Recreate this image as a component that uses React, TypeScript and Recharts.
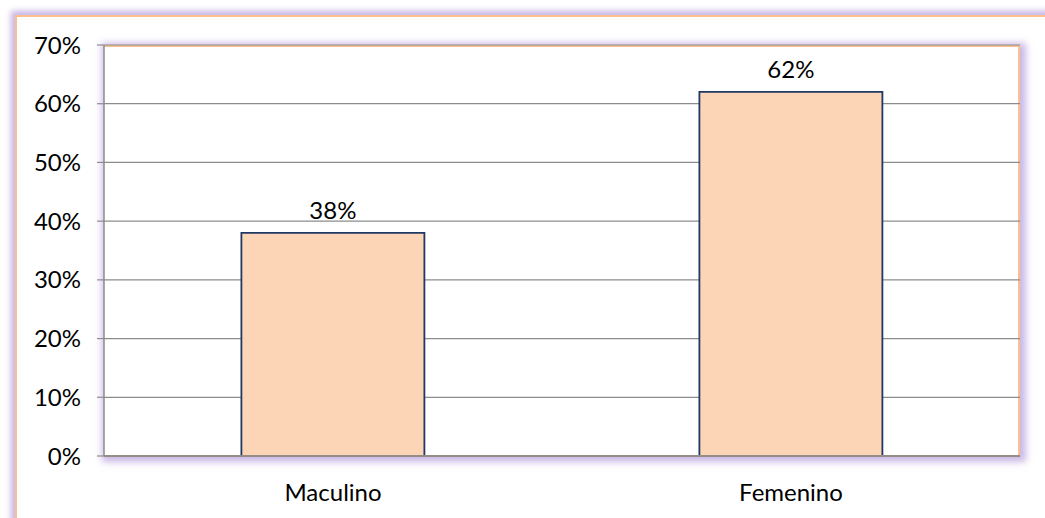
import React from "react";
import { BarChart, Bar, XAxis, YAxis, CartesianGrid, LabelList } from "recharts";

const categories = ["Maculino", "Femenino"];
const shares = [0.38, 0.62];
const yTicks = [0, 0.1, 0.2, 0.3, 0.4, 0.5, 0.6, 0.7];

const data = categories.map((name, i) => ({ name, value: shares[i] }));

const W = 1045;
const H = 518;
const xAxisHeight = 40;
const margin = { top: 45, right: 25, bottom: 62 - xAxisHeight, left: 22 };
const yAxisWidth = 82;
const plotLeft = margin.left + yAxisWidth;
const plotTop = margin.top;
const plotW = W - plotLeft - margin.right;
const plotH = H - margin.top - margin.bottom - xAxisHeight;

const FONT = "Lato, 'Open Sans', sans-serif";
const FS = 24;
const pct = (v: number) => `${Math.round(v * 100)}%`;

export default function App() {
  return (
    <div style={{ position: "absolute", left: 0, top: 0, width: W, height: H, overflow: "hidden", background: "#fff" }}>
      <div
        style={{
          position: "absolute",
          left: 15,
          top: 15,
          width: W + 100,
          height: H + 100,
          borderTop: "2px solid #FAC090",
          borderLeft: "2px solid #FAC090",
          boxShadow: "0 0 6px 4px rgba(185,160,220,0.8)",
          background: "#fff",
        }}
      />
      <div
        style={{
          position: "absolute",
          left: plotLeft,
          top: plotTop,
          width: plotW,
          height: plotH,
          borderTop: "2px solid #FAC090",
          borderRight: "2px solid #FAC090",
          boxSizing: "border-box",
          boxShadow: "2px 2px 7px 4px rgba(185,160,220,0.75)",
          background: "#fff",
        }}
      />
      <div style={{ position: "absolute", left: 0, top: 0 }}>
        <BarChart width={W} height={H} data={data} margin={margin} barCategoryGap="30%" style={{ fontFamily: FONT }}>
          <CartesianGrid vertical={false} stroke="#8C8C8C" strokeWidth={1.2} />
          <XAxis
            dataKey="name"
            height={xAxisHeight}
            tickLine={false}
            axisLine={{ stroke: "#948D85", strokeWidth: 2 }}
            tick={{ fill: "#000", fontSize: FS, fontFamily: FONT }}
            tickMargin={22}
          />
          <YAxis
            width={yAxisWidth}
            domain={[0, 0.7]}
            ticks={yTicks}
            tickFormatter={pct}
            axisLine={{ stroke: "#8C8C8C", strokeWidth: 1.5 }}
            tickLine={{ stroke: "#8C8C8C", strokeWidth: 1.2 }}
            tickSize={7}
            tickMargin={16}
            tick={{ fill: "#000", fontSize: FS, fontFamily: FONT }}
          />
          <Bar dataKey="value" fill="#FBD5B5" stroke="#1F3864" strokeWidth={1.8} isAnimationActive={false}>
            <LabelList dataKey="value" position="top" offset={14} formatter={pct} style={{ fill: "#000", fontSize: FS, fontFamily: FONT }} />
          </Bar>
        </BarChart>
      </div>
    </div>
  );
}
